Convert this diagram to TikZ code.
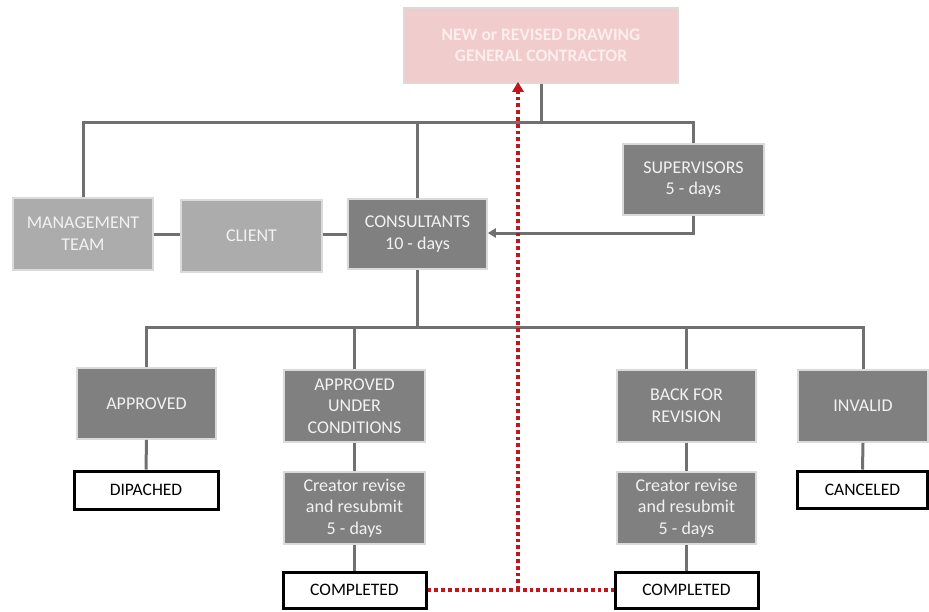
\documentclass[tikz,border=0pt]{standalone}
\usepackage{fontspec}
\setmainfont{Carlito}
\usetikzlibrary{arrows.meta}
\definecolor{boxdark}{RGB}{128,128,128}
\definecolor{boxlight}{RGB}{172,172,172}
\definecolor{boxedge}{RGB}{218,218,218}
\definecolor{boxtext}{RGB}{242,242,242}
\definecolor{linegray}{RGB}{112,112,112}
\definecolor{pinkfill}{RGB}{241,204,204}
\definecolor{pinkedge}{RGB}{228,214,214}
\definecolor{pinktext}{RGB}{253,238,238}
\definecolor{dotred}{RGB}{192,22,30}
\tikzset{
  boxbase/.style={rectangle, inner sep=0pt, align=center,
    font=\fontsize{18}{21.7}\selectfont, line width=1.6pt},
  darkbox/.style={boxbase, fill=boxdark, draw=boxedge, text=boxtext},
  lightbox/.style={boxbase, fill=boxlight, draw=boxedge, text=boxtext},
  endbox/.style={boxbase, fill=white, draw=black, line width=3pt, text=black,
    font=\fontsize{17.5}{21}\selectfont},
  topbox/.style={boxbase, fill=pinkfill, draw=pinkedge, text=pinktext,
    font=\fontsize{17.5}{21.5}\selectfont\bfseries},
  link/.style={draw=linegray, line width=3pt},
  redlink/.style={draw=dotred, line width=3.8pt, dash pattern=on 3.8pt off 3pt}
}
\begin{document}
\begin{tikzpicture}[x=1pt, y=-1pt]
  \useasboundingbox (0,0) rectangle (929,611);

  % source of drawings
  \node[topbox, minimum width=274pt, minimum height=75pt] (top) at (541,45.5)
    {NEW or REVISED DRAWING\\GENERAL CONTRACTOR};

  % review parties
  \node[lightbox, minimum width=140pt, minimum height=72pt] (mgmt) at (83,234) {MANAGEMENT\\TEAM};
  \node[lightbox, minimum width=141pt, minimum height=72pt] (client) at (251.5,236) {CLIENT};
  \node[darkbox, minimum width=139pt, minimum height=70pt] (consult) at (417.5,234) {CONSULTANTS\\10 - days};
  \node[darkbox, minimum width=141pt, minimum height=71pt] (superv) at (693.5,179.5) {SUPERVISORS\\5 - days};

  % review outcomes
  \node[darkbox, minimum width=139pt, minimum height=71pt] (approved) at (146.5,403.5) {APPROVED};
  \node[darkbox, minimum width=141pt, minimum height=72pt] (auc) at (354.5,406) {APPROVED\\UNDER\\CONDITIONS};
  \node[darkbox, minimum width=139pt, minimum height=72pt] (bfr) at (686.5,406) {BACK FOR\\REVISION};
  \node[darkbox, minimum width=130pt, minimum height=72pt] (invalid) at (863,406) {INVALID};

  % follow-up steps
  \node[darkbox, minimum width=141pt, minimum height=72pt] (credL) at (354.5,508) {Creator revise\\and resubmit\\5 - days};
  \node[darkbox, minimum width=139pt, minimum height=72pt] (credR) at (686.5,508) {Creator revise\\and resubmit\\5 - days};

  % final states
  \node[endbox, minimum width=144pt, minimum height=38pt] (disp) at (146,490) {DIPACHED};
  \node[endbox, minimum width=130pt, minimum height=37pt] (canc) at (862.5,489.5) {CANCELED};
  \node[endbox, minimum width=143pt, minimum height=36pt] (compL) at (354.5,590) {COMPLETED};
  \node[endbox, minimum width=143pt, minimum height=36pt] (compR) at (686.5,590) {COMPLETED};

  % upper distribution bus
  \coordinate (busA) at (543,122);
  \draw[link] (top.south) -- (top.south |- busA);
  \draw[link] (mgmt.north) |- (busA) -| (superv.north);
  \draw[link] (consult.north) -- (consult.north |- busA);
  \draw[link] (mgmt.east) -- (client.west |- mgmt.east);
  \draw[link] (client.east |- consult.west) -- (consult.west);
  \draw[link, -{Triangle[length=8pt,width=9pt]}] (superv.south) |- ([yshift=1pt]consult.east);

  % lower distribution bus
  \coordinate (busB) at (415,327);
  \draw[link] (consult.south) -- (consult.south |- busB);
  \draw[link] (approved.north) |- (busB) -| (invalid.north);
  \draw[link] (auc.north) -- (auc.north |- busB);
  \draw[link] (bfr.north) -- (bfr.north |- busB);

  % chains below each outcome
  \draw[link] (approved.south) -- (disp.north);
  \draw[link] (auc.south) -- (credL.north);
  \draw[link] (credL.south) -- (compL.north);
  \draw[link] (bfr.south) -- (credR.north);
  \draw[link] (credR.south) -- (compR.north);
  \draw[link] (invalid.south) -- (canc.north);

  % resubmission loop back to the contractor
  \coordinate (loop) at (518,590);
  \draw[redlink] (compL.east) -- (compR.west);
  \draw[redlink, -{Triangle[length=10pt,width=11pt]}] (loop) -- ([yshift=2pt]loop |- top.south);
\end{tikzpicture}
\end{document}
